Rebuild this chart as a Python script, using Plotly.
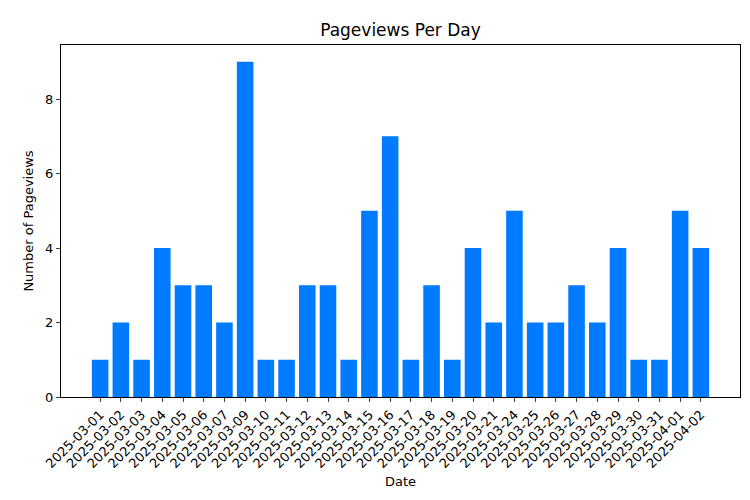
import plotly.graph_objects as go

dates = ["2025-03-01","2025-03-02","2025-03-03","2025-03-04","2025-03-05","2025-03-06","2025-03-07",
         "2025-03-09","2025-03-10","2025-03-11","2025-03-12","2025-03-13","2025-03-14","2025-03-15",
         "2025-03-16","2025-03-17","2025-03-18","2025-03-19","2025-03-20","2025-03-21","2025-03-24",
         "2025-03-25","2025-03-26","2025-03-27","2025-03-28","2025-03-29","2025-03-30","2025-03-31",
         "2025-04-01","2025-04-02"]
views = [1,2,1,4,3,3,2,9,1,1,3,3,1,5,7,1,3,1,4,2,5,2,2,3,2,4,1,1,5,4]

fig = go.Figure(go.Bar(x=dates, y=views, marker=dict(color="#007bff", line=dict(width=0)), width=0.8))
fig.update_layout(
    width=750, height=500, margin=dict(l=53, r=18, t=37, b=111, autoexpand=False),
    plot_bgcolor="white", paper_bgcolor="white",
    font=dict(family="DejaVu Sans", size=13, color="black"),
    title=dict(text="Pageviews Per Day", x=0.5, xref="paper", y=0.955, yanchor="middle", font=dict(size=17)),
    showlegend=False,
)
fig.update_xaxes(type="category", range=[-1.89, 30.89], tickangle=-45, showline=True, mirror=True,
                 linecolor="black", linewidth=1, ticks="outside", ticklen=4, showgrid=False, automargin=False,
                 title=dict(text="Date", standoff=6, font=dict(size=13)), tickfont=dict(size=13))
fig.update_yaxes(range=[0, 9.45], dtick=2, showline=True, mirror=True, linecolor="black", linewidth=1,
                 ticks="outside", ticklen=4, showgrid=False, zeroline=False, automargin=False,
                 title=dict(text="Number of Pageviews", standoff=8, font=dict(size=13)), tickfont=dict(size=13))
fig.write_html("out.html")
